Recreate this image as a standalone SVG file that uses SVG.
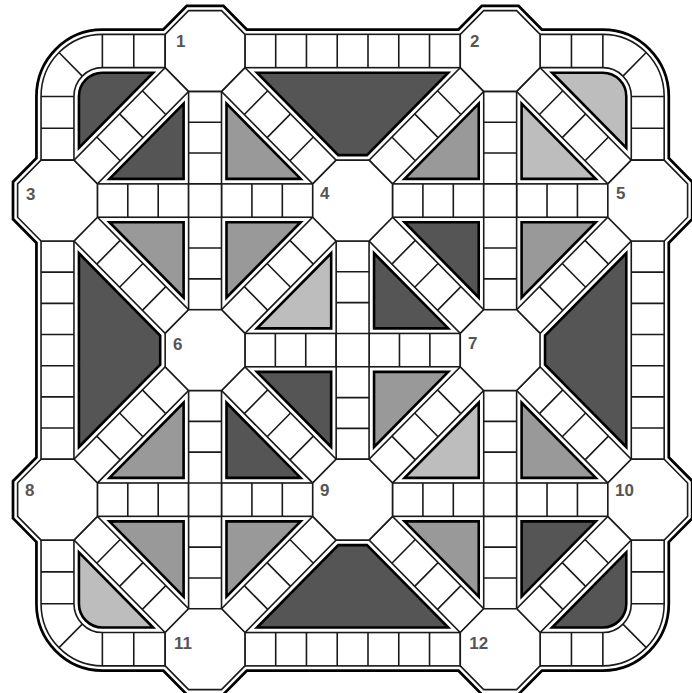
<svg xmlns="http://www.w3.org/2000/svg" width="692" height="693" viewBox="0 0 692 693">
<style>
.s{fill:#fff;stroke:#1a1a1a;stroke-width:1.6}
.d{fill:none;stroke:#1a1a1a;stroke-width:1.6}
.gr{stroke:#000;stroke-width:2.6;stroke-linejoin:miter}
.k{fill:#555}
.m{fill:#999}
.l{fill:#bdbdbd}
.lbl{font-family:"Liberation Sans",Arial,sans-serif;font-weight:bold;font-size:17px;fill:#555}
</style>
<defs>
<path id="bnd" d="M108,-16.5L131.5,-40H164.5L188,-16.5H404L427.5,-40H460.5L484,-16.5H547A61.5,61.5 0 0 1 608.5,45V108L632,131.5V164.5L608.5,188V404L632,427.5V460.5L608.5,484V547A61.5,61.5 0 0 1 547,608.5H484L460.5,632H427.5L404,608.5H188L164.5,632H131.5L108,608.5H45A61.5,61.5 0 0 1 -16.5,547V484L-40,460.5V427.5L-16.5,404V188L-40,164.5V131.5L-16.5,108V45A61.5,61.5 0 0 1 45,-16.5Z"/>
<polygon id="oct" class="s" points="-16.5,-40 16.5,-40 40,-16.5 40,16.5 16.5,40 -16.5,40 -40,16.5 -40,-16.5"/>
<g id="ds"><rect class="s" x="0" y="-16.62" width="129.4" height="33.24"/><path class="d" d="M32.35,-16.62v33.24M64.7,-16.62v33.24M97.05,-16.62v33.24"/></g>
<g id="corner"><path class="s" d="M108,-16.5H45A61.5,61.5 0 0 0 -16.5,45V108H16.5V45A28.5,28.5 0 0 1 45,16.5H108Z"/><path class="d" d="M76.5,-16.5v33M45,-16.5v33M-16.5,45h33M-16.5,76.5h33M24.85,24.85L1.51,1.51"/></g>
<path id="cg" d="M45,21.5H95.9L21.5,95.9V45A23.5,23.5 0 0 1 45,21.5Z"/>
<g id="hs">
<rect class="s" x="188" y="-16.5" width="216" height="33"/>
<rect class="s" x="188" y="575.5" width="216" height="33"/>
<rect class="s" x="40" y="131.5" width="216" height="33"/>
<rect class="s" x="336" y="131.5" width="216" height="33"/>
<rect class="s" x="40" y="427.5" width="216" height="33"/>
<rect class="s" x="336" y="427.5" width="216" height="33"/>
<rect class="s" x="188" y="279.5" width="216" height="33"/>
<path class="d" d="M218.86,-16.5v33M249.71,-16.5v33M280.57,-16.5v33M311.43,-16.5v33M342.29,-16.5v33M373.14,-16.5v33M218.86,575.5v33M249.71,575.5v33M280.57,575.5v33M311.43,575.5v33M342.29,575.5v33M373.14,575.5v33M70.5,131.5v33M101,131.5v33M131.5,131.5v33M164.5,131.5v33M195,131.5v33M225.5,131.5v33M366.5,131.5v33M397,131.5v33M427.5,131.5v33M460.5,131.5v33M491,131.5v33M521.5,131.5v33M70.5,427.5v33M101,427.5v33M131.5,427.5v33M164.5,427.5v33M195,427.5v33M225.5,427.5v33M366.5,427.5v33M397,427.5v33M427.5,427.5v33M460.5,427.5v33M491,427.5v33M521.5,427.5v33M218.5,279.5v33M249,279.5v33M279.5,279.5v33M312.5,279.5v33M343,279.5v33M373.5,279.5v33"/>
</g>
</defs>
<rect width="692" height="693" fill="#fff"/>
<g transform="translate(57.5,51) scale(0.997,1.0105)">
<g id="frame">
<use href="#bnd" fill="none" stroke="#000" stroke-width="12" stroke-linejoin="miter"/>
<use href="#bnd" fill="#fff" stroke="#fff" stroke-width="6.5" stroke-linejoin="miter"/>
</g>
<g id="regions" class="gr">
<use href="#cg" class="k"/>
<use href="#cg" class="l" transform="translate(592,0) scale(-1,1)"/>
<use href="#cg" class="l" transform="translate(0,592) scale(1,-1)"/>
<use href="#cg" class="k" transform="translate(592,592) scale(-1,-1)"/>
<polygon class="k" points="200.1,21.5 391.9,21.5 310.4,103 281.6,103"/>
<polygon class="k" points="21.5,200.1 103,281.6 103,310.4 21.5,391.9"/>
<polygon class="k" points="570.5,200.1 489,281.6 489,310.4 570.5,391.9"/>
<polygon class="k" points="200.1,570.5 281.6,489 310.4,489 391.9,570.5"/>
<polygon class="k" points="126.5,126.5 52.1,126.5 126.5,52.1"/>
<polygon class="m" points="169.5,126.5 243.9,126.5 169.5,52.1"/>
<polygon class="m" points="126.5,169.5 52.1,169.5 126.5,243.9"/>
<polygon class="m" points="169.5,169.5 243.9,169.5 169.5,243.9"/>
<polygon class="m" points="422.5,126.5 348.1,126.5 422.5,52.1"/>
<polygon class="l" points="465.5,126.5 539.9,126.5 465.5,52.1"/>
<polygon class="k" points="422.5,169.5 348.1,169.5 422.5,243.9"/>
<polygon class="m" points="465.5,169.5 539.9,169.5 465.5,243.9"/>
<polygon class="l" points="274.5,274.5 200.1,274.5 274.5,200.1"/>
<polygon class="k" points="317.5,274.5 391.9,274.5 317.5,200.1"/>
<polygon class="k" points="274.5,317.5 200.1,317.5 274.5,391.9"/>
<polygon class="m" points="317.5,317.5 391.9,317.5 317.5,391.9"/>
<polygon class="m" points="126.5,422.5 52.1,422.5 126.5,348.1"/>
<polygon class="k" points="169.5,422.5 243.9,422.5 169.5,348.1"/>
<polygon class="m" points="126.5,465.5 52.1,465.5 126.5,539.9"/>
<polygon class="m" points="169.5,465.5 243.9,465.5 169.5,539.9"/>
<polygon class="l" points="422.5,422.5 348.1,422.5 422.5,348.1"/>
<polygon class="m" points="465.5,422.5 539.9,422.5 465.5,348.1"/>
<polygon class="m" points="422.5,465.5 348.1,465.5 422.5,539.9"/>
<polygon class="k" points="465.5,465.5 539.9,465.5 465.5,539.9"/>
</g>
<g id="connectors">
<use href="#hs"/>
<use href="#hs" transform="matrix(0,1,1,0,0,0)"/>
<use href="#ds" transform="translate(176.25,28.25) rotate(45)"/>
<use href="#ds" transform="translate(472.25,28.25) rotate(45)"/>
<use href="#ds" transform="translate(28.25,176.25) rotate(45)"/>
<use href="#ds" transform="translate(324.25,176.25) rotate(45)"/>
<use href="#ds" transform="translate(176.25,324.25) rotate(45)"/>
<use href="#ds" transform="translate(472.25,324.25) rotate(45)"/>
<use href="#ds" transform="translate(28.25,472.25) rotate(45)"/>
<use href="#ds" transform="translate(324.25,472.25) rotate(45)"/>
<use href="#ds" transform="translate(119.75,28.25) rotate(135)"/>
<use href="#ds" transform="translate(415.75,28.25) rotate(135)"/>
<use href="#ds" transform="translate(267.75,176.25) rotate(135)"/>
<use href="#ds" transform="translate(563.75,176.25) rotate(135)"/>
<use href="#ds" transform="translate(119.75,324.25) rotate(135)"/>
<use href="#ds" transform="translate(415.75,324.25) rotate(135)"/>
<use href="#ds" transform="translate(267.75,472.25) rotate(135)"/>
<use href="#ds" transform="translate(563.75,472.25) rotate(135)"/>
<use href="#corner"/>
<use href="#corner" transform="translate(592,0) scale(-1,1)"/>
<use href="#corner" transform="translate(0,592) scale(1,-1)"/>
<use href="#corner" transform="translate(592,592) scale(-1,-1)"/>
</g>
<g id="node-1"><use href="#oct" x="148" y="0"/><text class="lbl" x="118.9" y="-4">1</text></g>
<g id="node-2"><use href="#oct" x="444" y="0"/><text class="lbl" x="413.7" y="-4">2</text></g>
<g id="node-3"><use href="#oct" x="0" y="148"/><text class="lbl" x="-31.6" y="147.5">3</text></g>
<g id="node-4"><use href="#oct" x="296" y="148"/><text class="lbl" x="263.3" y="146.5">4</text></g>
<g id="node-5"><use href="#oct" x="592" y="148"/><text class="lbl" x="560.2" y="146.5">5</text></g>
<g id="node-6"><use href="#oct" x="148" y="296"/><text class="lbl" x="115.8" y="295.9">6</text></g>
<g id="node-7"><use href="#oct" x="444" y="296"/><text class="lbl" x="411.7" y="294.9">7</text></g>
<g id="node-8"><use href="#oct" x="0" y="444"/><text class="lbl" x="-32.6" y="440.4">8</text></g>
<g id="node-9"><use href="#oct" x="296" y="444"/><text class="lbl" x="263.3" y="440.4">9</text></g>
<g id="node-10"><use href="#oct" x="592" y="444"/><text class="lbl" x="559.2" y="440.4">10</text></g>
<g id="node-11"><use href="#oct" x="148" y="592"/><text class="lbl" x="116.8" y="591.8">11</text></g>
<g id="node-12"><use href="#oct" x="444" y="592"/><text class="lbl" x="413" y="591.8">12</text></g>
</g>
</svg>
